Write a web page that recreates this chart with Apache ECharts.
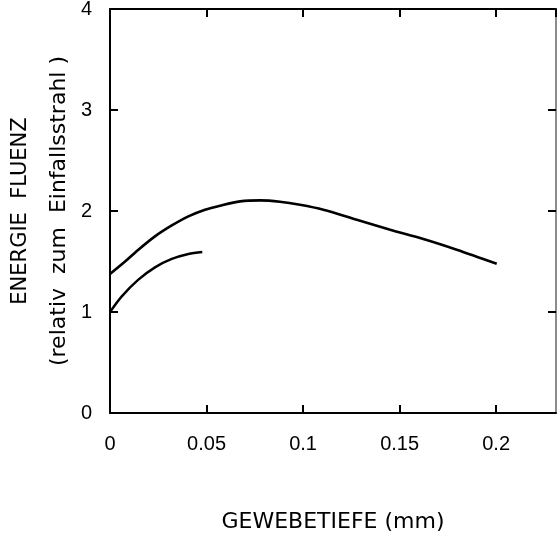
<!DOCTYPE html>
<html>
<head>
<meta charset="utf-8">
<script src="https://cdn.jsdelivr.net/npm/echarts@6/dist/echarts.min.js"></script>
<style>
html,body{margin:0;padding:0;background:#fff;}
#chart{width:557px;height:535px;}
</style>
</head>
<body>
<div id="chart"></div>
<script>
// Data
const upperDepth = [0, 0.0078, 0.0147, 0.0233, 0.032, 0.0406, 0.0492, 0.057, 0.0674, 0.0777, 0.088, 0.0984, 0.1105, 0.1278, 0.1451, 0.1623, 0.1796, 0.2003];
const upperFluence = [1.377, 1.50, 1.617, 1.749, 1.857, 1.947, 2.013, 2.053, 2.095, 2.105, 2.092, 2.062, 2.013, 1.914, 1.815, 1.723, 1.617, 1.478];
const lowerDepth = [0, 0.0061, 0.0147, 0.0233, 0.032, 0.0406, 0.0478];
const lowerFluence = [1.0, 1.155, 1.32, 1.442, 1.525, 1.574, 1.594];
const xTickLabels = ['0', '0.05', '0.1', '0.15', '0.2'];
const yTickLabels = ['0', '1', '2', '3', '4'];
const xTitle = 'GEWEBETIEFE (mm)';
const yTitle1 = 'ENERGIE  FLUENZ';
const yTitle2 = '(relativ  zum  Einfallsstrahl )';

const TICKFONT = 'Liberation Sans';
const TITLEFONT = 'DejaVu Sans';
const chart = echarts.init(document.getElementById('chart'), null, {renderer: 'canvas'});

function pairs(xs, ys) { return xs.map((x, i) => [x, ys[i]]); }

const axisLineBlack = {show: true, onZero: false, lineStyle: {color: '#000', width: 2}};
const tickIn = {show: true, inside: true, length: 8, lineStyle: {color: '#000', width: 2}};

chart.setOption({
  animation: false,
  backgroundColor: '#fff',
  grid: {left: 110, right: 1, top: 9, bottom: 122, containLabel: false, outerBoundsMode: 'none'},
  xAxis: [
    {
      type: 'value', position: 'bottom', min: 0, max: 0.231, interval: 0.05,
      axisLine: axisLineBlack, axisTick: tickIn, splitLine: {show: false},
      axisLabel: {
        showMaxLabel: false, margin: 21, color: '#000', fontSize: 20, fontFamily: TICKFONT,
        formatter: function (v) { const i = Math.round(v / 0.05); return (Math.abs(v - i * 0.05) < 1e-9 && i < xTickLabels.length) ? xTickLabels[i] : ''; }
      },
      name: xTitle, nameLocation: 'middle', nameGap: 98,
      nameTextStyle: {color: '#000', fontSize: 22, fontFamily: TITLEFONT}
    },
    {
      type: 'value', position: 'top', min: 0, max: 0.231, interval: 0.05,
      axisLine: axisLineBlack, axisTick: tickIn, splitLine: {show: false},
      axisLabel: {show: false}
    }
  ],
  yAxis: [
    {
      type: 'value', position: 'left', min: 0, max: 4, interval: 1,
      axisLine: axisLineBlack, axisTick: tickIn, splitLine: {show: false},
      axisLabel: {
        margin: 18, color: '#000', fontSize: 20, fontFamily: TICKFONT,
        formatter: function (v) { return yTickLabels[Math.round(v)] || ''; }
      },
      name: '{a|' + yTitle1 + '}\n{b|' + yTitle2 + '}',
      nameLocation: 'middle', nameGap: 30, nameRotate: 90,
      nameTextStyle: {
        color: '#000', fontFamily: TITLEFONT,
        rich: {
          a: {fontSize: 21, fontFamily: TITLEFONT, color: '#000', lineHeight: 38},
          b: {fontSize: 22, fontFamily: TITLEFONT, color: '#000', lineHeight: 38}
        }
      }
    },
    {
      type: 'value', position: 'right', min: 0, max: 4, interval: 1,
      axisLine: {show: true, onZero: false, lineStyle: {color: '#666', width: 1.5}},
      axisTick: tickIn, splitLine: {show: false}, axisLabel: {show: false}
    }
  ],
  series: [
    {
      type: 'line', xAxisIndex: 0, yAxisIndex: 0, data: pairs(upperDepth, upperFluence),
      smooth: 0.3, symbol: 'none', lineStyle: {color: '#000', width: 2.6}
    },
    {
      type: 'line', xAxisIndex: 0, yAxisIndex: 0, data: pairs(lowerDepth, lowerFluence),
      smooth: 0.3, symbol: 'none', lineStyle: {color: '#000', width: 2.4}
    }
  ]
});
</script>
</body>
</html>
